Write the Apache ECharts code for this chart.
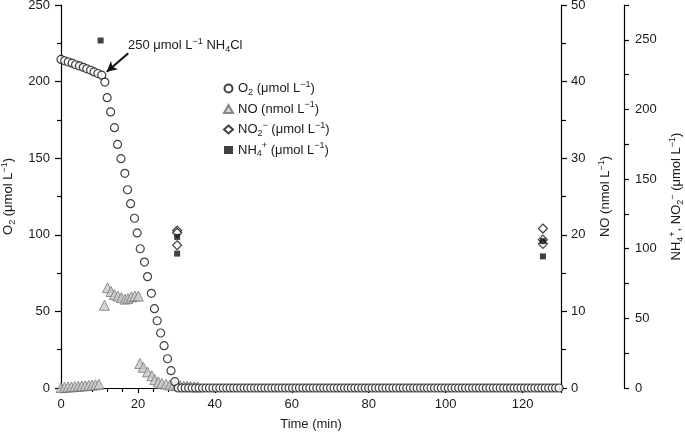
<!DOCTYPE html>
<html>
<head>
<meta charset="utf-8">
<script src="https://cdn.jsdelivr.net/npm/echarts@6/dist/echarts.min.js"></script>
<style>
html,body{margin:0;padding:0;background:#fff;}
#chart{width:685px;height:433px;}
</style>
</head>
<body>
<div id="chart"></div>
<script>
// ---- data ----
var o2Time = [0, 0.96, 1.9, 2.9, 3.8, 4.8, 5.8, 6.7, 7.7, 8.6, 9.6, 10.6, 11.4, 12.0, 12.9, 13.9, 14.7, 15.6, 16.6, 17.3, 18.1, 19.1, 19.8, 20.6, 21.7, 22.5, 23.5, 24.3, 25.0, 25.9, 26.8, 27.7, 28.6, 29.6];
var o2Value = [214.5, 213.6, 212.8, 212, 211, 210.2, 209.3, 208.4, 207.4, 206.3, 205.3, 204.2, 199.7, 189.5, 180.2, 169.9, 159, 149.7, 140.1, 129.4, 120.3, 110.8, 101.2, 90.9, 82.2, 72.7, 61.8, 51.8, 43.9, 35.9, 27.6, 19.1, 11.3, 4.1];
var tailTime = [30.5, 31.4, 32.3, 33.2, 34.1, 35.0, 35.9, 36.8, 37.7, 38.6, 39.5, 40.4, 41.3, 42.2, 43.1, 44.0, 44.9, 45.8, 46.7, 47.6, 48.5, 49.4, 50.3, 51.2, 52.1, 53.0, 53.9, 54.8, 55.7, 56.6, 57.5, 58.4, 59.3, 60.2, 61.1, 62.0, 62.9, 63.8, 64.7, 65.6, 66.5, 67.4, 68.3, 69.2, 70.1, 71.0, 71.9, 72.8, 73.7, 74.6, 75.5, 76.4, 77.3, 78.2, 79.1, 80.0, 80.9, 81.8, 82.7, 83.6, 84.5, 85.4, 86.3, 87.2, 88.1, 89.0, 89.9, 90.8, 91.7, 92.6, 93.5, 94.4, 95.3, 96.2, 97.1, 98.0, 98.9, 99.8, 100.7, 101.6, 102.5, 103.4, 104.3, 105.2, 106.1, 107.0, 107.9, 108.8, 109.7, 110.6, 111.5, 112.4, 113.3, 114.2, 115.1, 116.0, 116.9, 117.8, 118.7, 119.6, 120.5, 121.4, 122.3, 123.2, 124.1, 125.0, 125.9, 126.8, 127.7, 128.6, 129.5];
var o2Tail = [0,0,0,0,0,0,0,0,0,0, 0,0,0,0,0,0,0,0,0,0, 0,0,0,0,0,0,0,0,0,0, 0,0,0,0,0,0,0,0,0,0, 0,0,0,0,0,0,0,0,0,0, 0,0,0,0,0,0,0,0,0,0, 0,0,0,0,0,0,0,0,0,0, 0,0,0,0,0,0,0,0,0,0, 0,0,0,0,0,0,0,0,0,0, 0,0,0,0,0,0,0,0,0,0, 0,0,0,0,0,0,0,0,0,0, 0];

var noTime = [0, 0.9, 1.8, 2.7, 3.6, 4.5, 5.4, 6.3, 7.2, 8.1, 9.0, 9.9, 11.3, 12.1, 13.0, 13.9, 14.8, 15.7, 16.6, 17.4, 18.3, 19.2, 20.1, 20.5, 21.4, 22.5, 23.6, 24.4, 25.3, 26.2, 27.3, 28.3, 29.2, 30.1, 31.0, 31.9, 32.8, 33.7, 34.6, 35.5];
var noValue = [0.05, 0.1, 0.12, 0.15, 0.2, 0.22, 0.26, 0.3, 0.34, 0.38, 0.43, 0.48, 10.8, 13.1, 12.6, 12.2, 12.0, 11.8, 11.6, 11.7, 11.9, 12.0, 12.0, 3.2, 2.7, 2.1, 1.6, 1.1, 0.8, 0.6, 0.5, 0.4, 0.35, 0.3, 0.28, 0.25, 0.22, 0.2, 0.18, 0.15];

var no2Time = [30.2, 30.2, 30.2, 125.3, 125.3, 125.3];
var no2Value = [113, 111.5, 102.5, 114.5, 106.5, 103.5];

var nh4Time = [10.3, 30.2, 30.2, 125.3, 125.3];
var nh4Value = [249.5, 108.5, 96.5, 105.5, 94.5];

var xTicks = [0, 20, 40, 60, 80, 100, 120];

var legendLabels = {
  'O2': 'O{sub|2} (μmol L{sup|−1})',
  'NO': 'NO (nmol L{sup|−1})',
  'NO2': 'NO{sub|2}{sup|−} (μmol L{sup|−1})',
  'NH4': 'NH{sub|4}{sup|+} (μmol L{sup|−1})'
};

// ---- chart ----
function zip(a, b) { return a.map(function (t, i) { return [t, b[i]]; }); }

var FONT = "'Liberation Sans', Arial, Helvetica, sans-serif";
var TXT = '#1a1a1a';
var rich = {
  sub: { fontSize: 9, lineHeight: 9, verticalAlign: 'bottom', fontFamily: FONT, color: TXT },
  sup: { fontSize: 9, lineHeight: 9, verticalAlign: 'top', fontFamily: FONT, color: TXT }
};
var nameStyle = { fontSize: 13, fontFamily: FONT, color: TXT, lineHeight: 17, rich: rich };
var lineStyle = { color: '#000', width: 1.2 };

var chart = echarts.init(document.getElementById('chart'), null, { renderer: 'canvas' });

var option = {
  animation: false,
  backgroundColor: '#fff',
  grid: { left: 61, right: 124, top: 5, bottom: 45, containLabel: false, outerBoundsMode: 'none' },
  legend: {
    orient: 'vertical',
    left: 218, top: 75,
    itemWidth: 9, itemHeight: 8, itemGap: 3.5,
    data: [
      { name: 'O2', icon: 'circle' },
      { name: 'NO', icon: 'triangle' },
      { name: 'NO2', icon: 'diamond' },
      { name: 'NH4', icon: 'rect' }
    ],
    formatter: function (n) { return legendLabels[n]; },
    textStyle: { fontSize: 13, fontFamily: FONT, color: TXT, lineHeight: 17, rich: rich },
    selectedMode: false
  },
  xAxis: {
    type: 'value', min: 0, max: 130, interval: 20,
    name: 'Time (min)', nameLocation: 'middle', nameGap: 27,
    nameTextStyle: nameStyle,
    axisLine: { lineStyle: lineStyle },
    axisTick: { inside: false, length: 5, lineStyle: lineStyle },
    minorTick: { show: true, splitNumber: 5, length: 4, lineStyle: lineStyle },
    splitLine: { show: false },
    axisLabel: { margin: 10, fontSize: 13, fontFamily: FONT, color: TXT,
      formatter: function (v) { return xTicks.indexOf(v) >= 0 ? String(v) : ''; } }
  },
  yAxis: [
    {
      type: 'value', position: 'left', min: 0, max: 250, interval: 50,
      name: 'O{sub|2} (μmol L{sup|−1})', nameLocation: 'middle', nameGap: 42, nameRotate: 90,
      nameTextStyle: nameStyle,
      axisLine: { show: true, lineStyle: lineStyle },
      axisTick: { show: true, inside: false, length: 6, lineStyle: lineStyle },
      minorTick: { show: true, splitNumber: 2, length: 4, lineStyle: lineStyle },
      splitLine: { show: false },
      axisLabel: { margin: 11, fontSize: 13, fontFamily: FONT, color: TXT }
    },
    {
      type: 'value', position: 'right', min: 0, max: 50, interval: 10,
      name: 'NO (nmol L{sup|−1})', nameLocation: 'middle', nameGap: 36, nameRotate: 90,
      nameTextStyle: nameStyle,
      axisLine: { show: true, lineStyle: lineStyle },
      axisTick: { show: true, inside: false, length: 6, lineStyle: lineStyle },
      minorTick: { show: true, splitNumber: 2, length: 5, lineStyle: lineStyle },
      splitLine: { show: false },
      axisLabel: { margin: 10, fontSize: 13, fontFamily: FONT, color: TXT }
    },
    {
      type: 'value', position: 'right', offset: 63, min: 0, max: 275, interval: 25,
      name: 'NH{sub|4}{sup|+}, NO{sub|2}{sup|−} (μmol L{sup|−1})', nameLocation: 'middle', nameGap: 42, nameRotate: 90,
      nameTextStyle: nameStyle,
      axisLine: { show: true, lineStyle: lineStyle },
      axisTick: { show: true, inside: false, length: 5, lineStyle: lineStyle },
      splitLine: { show: false },
      axisLabel: { margin: 11, fontSize: 13, fontFamily: FONT, color: TXT,
        formatter: function (v) { return (v % 50 === 0) ? String(v) : ''; } }
    }
  ],
  graphic: [
    {
      type: 'text', left: 128, top: 37, silent: true,
      style: {
        text: '250 μmol L{sup|−1} NH{sub|4}Cl',
        font: '13px ' + FONT, fill: TXT, lineHeight: 17,
        rich: {
          sub: { fontSize: 9, lineHeight: 9, verticalAlign: 'bottom', fontFamily: FONT, fill: TXT },
          sup: { fontSize: 9, lineHeight: 9, verticalAlign: 'top', fontFamily: FONT, fill: TXT }
        }
      }
    }
  ],
  series: [
    {
      name: 'NO', type: 'scatter', yAxisIndex: 1, clip: false,
      symbol: 'triangle', symbolSize: 10,
      itemStyle: { color: '#c8c8c8', borderColor: '#6b6b6b', borderWidth: 0.9 },
      data: zip(noTime, noValue), z: 2
    },
    {
      name: 'O2', type: 'scatter', yAxisIndex: 0, clip: false,
      symbol: 'circle', symbolSize: 8,
      itemStyle: { color: '#fff', borderColor: '#111', borderWidth: 1.2 },
      data: zip(o2Time, o2Value).concat(zip(tailTime, o2Tail)), z: 3,
      markLine: {
        silent: true, symbol: ['none', 'arrow'], symbolSize: [8, 10],
        label: { show: false },
        lineStyle: { color: '#111', width: 2, type: 'solid' },
        data: [[{ coord: [17.5, 218.5] }, { coord: [11.9, 206.5] }]]
      }
    },
    {
      name: 'NO2', type: 'scatter', yAxisIndex: 2, clip: false,
      symbol: 'diamond', symbolSize: 9,
      itemStyle: { color: '#fff', borderColor: '#111', borderWidth: 1.2 },
      data: zip(no2Time, no2Value), z: 4
    },
    {
      name: 'NH4', type: 'scatter', yAxisIndex: 2, clip: false,
      symbol: 'rect', symbolSize: 6,
      itemStyle: { color: '#111' },
      data: zip(nh4Time, nh4Value), z: 5
    }
  ]
};
chart.setOption(option);
</script>
</body>
</html>
